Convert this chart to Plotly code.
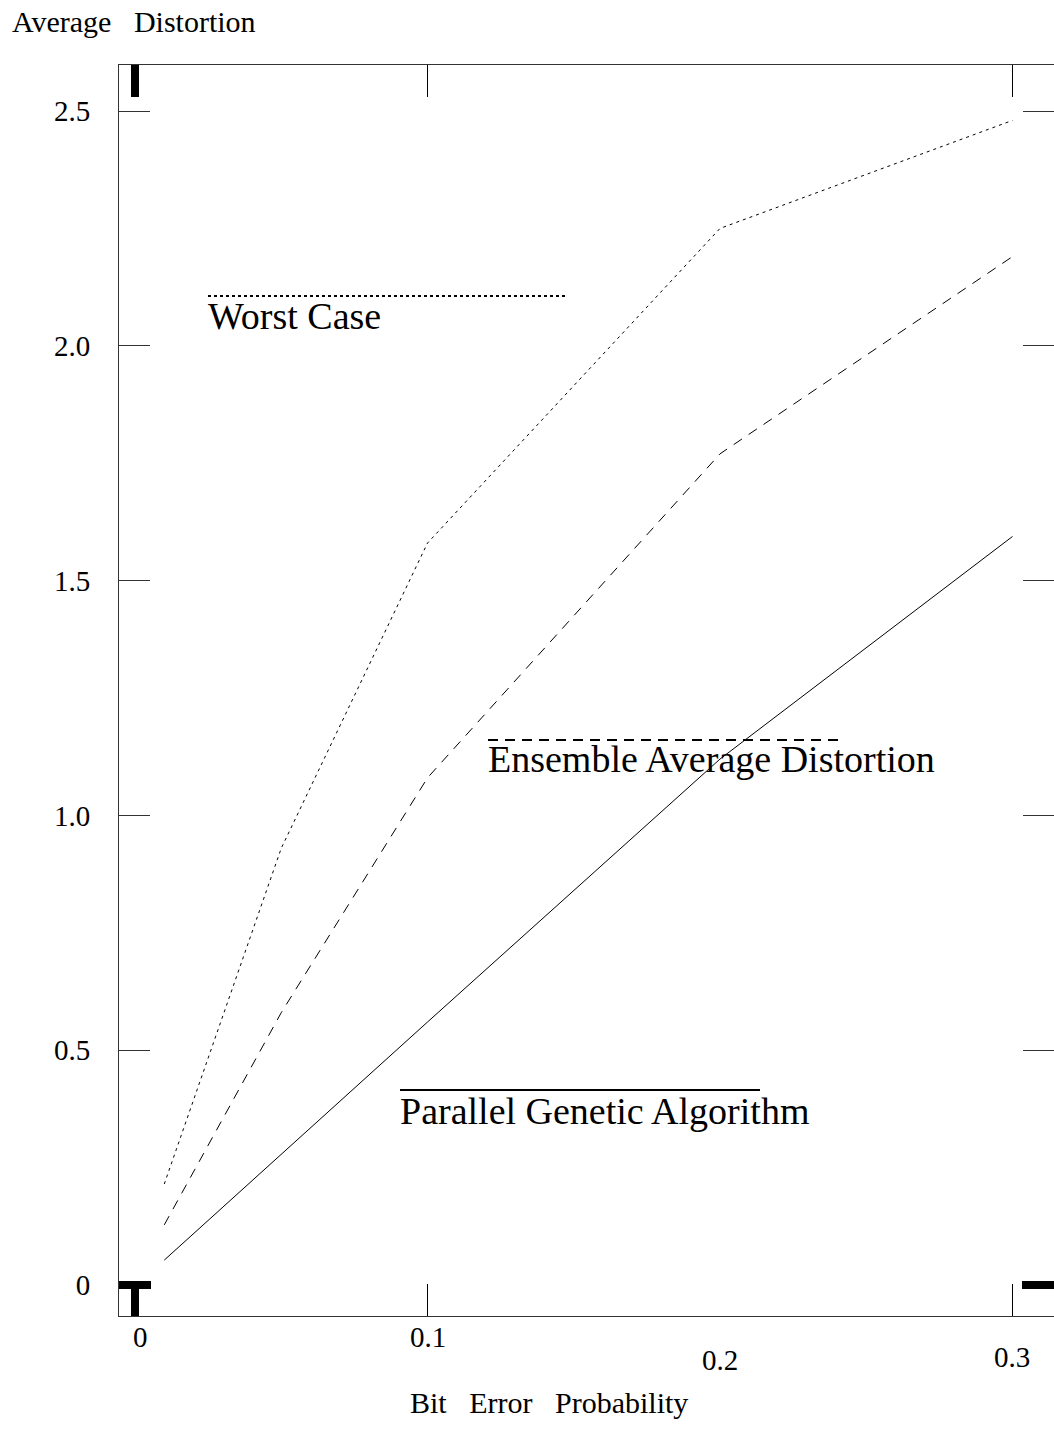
import plotly.graph_objects as go

# ---- data ----
x_worst = [0.01, 0.05, 0.1, 0.2, 0.3]
worst_case = [0.215, 0.93, 1.58, 2.25, 2.48]

x_ensemble = [0.01, 0.05, 0.1, 0.2, 0.3]
ensemble_avg = [0.128, 0.58, 1.08, 1.77, 2.19]

x_parallel = [0.01, 0.1, 0.2, 0.3]
parallel_ga = [0.053, 0.56, 1.12, 1.594]

y_tick_vals = [0, 0.5, 1.0, 1.5, 2.0, 2.5]
y_tick_text = ["0", "0.5", "1.0", "1.5", "2.0", "2.5"]
x_tick_vals = [0, 0.1, 0.2, 0.3]
x_tick_text = ["0", "0.1", "0.2", "0.3"]

W, H = 1054, 1447
L, R, T, B = 119, 0, 65, 131
PW, PH = W - L - R, H - T - B

def px(x):
    return (x - L) / PW

def py(y):
    return (H - B - y) / PH

FONT = "Liberation Serif, Times New Roman, serif"
X_RANGE = [-0.00547, 0.31419]
Y_RANGE = [-0.066, 2.598]
TICK_SIZE = 29
TITLE_SIZE = 30
LEG_SIZE = 38

fig = go.Figure()
fig.add_trace(go.Scatter(x=x_worst, y=worst_case, mode="lines",
                         line=dict(color="black", width=1, dash="3px,4px"),
                         showlegend=False, hoverinfo="skip"))
fig.add_trace(go.Scatter(x=x_ensemble, y=ensemble_avg, mode="lines",
                         line=dict(color="black", width=1, dash="10px,8px"),
                         showlegend=False, hoverinfo="skip"))
fig.add_trace(go.Scatter(x=x_parallel, y=parallel_ga, mode="lines",
                         line=dict(color="black", width=1),
                         showlegend=False, hoverinfo="skip"))
# invisible trace so the overlay axes (thick zero ticks) get drawn
fig.add_trace(go.Scatter(x=[0], y=[0], xaxis="x2", yaxis="y2", mode="markers",
                         marker=dict(opacity=0), showlegend=False, hoverinfo="skip"))

fig.update_layout(
    width=W, height=H,
    margin=dict(l=L, r=R, t=T, b=B, pad=0),
    paper_bgcolor="white", plot_bgcolor="white",
    font=dict(family=FONT, color="black", size=TICK_SIZE),
    xaxis=dict(range=X_RANGE, showgrid=False, zeroline=False,
               showline=True, linecolor="#333", linewidth=1, mirror="ticks",
               ticks="inside", ticklen=32, tickwidth=1, tickcolor="black",
               tickvals=[0.1, 0.3], showticklabels=False),
    yaxis=dict(range=Y_RANGE, showgrid=False, zeroline=False,
               showline=True, linecolor="#333", linewidth=1, mirror="ticks",
               ticks="inside", ticklen=31, tickwidth=1, tickcolor="#333",
               tickvals=y_tick_vals, ticktext=y_tick_text,
               ticklabelstandoff=22,
               tickfont=dict(family=FONT, size=TICK_SIZE)),
    xaxis2=dict(range=X_RANGE, overlaying="x", showgrid=False, zeroline=False,
                showline=False, mirror="ticks", ticks="inside", ticklen=32,
                tickwidth=8, tickcolor="black", tickvals=[0], showticklabels=False),
    yaxis2=dict(range=Y_RANGE, overlaying="y", showgrid=False, zeroline=False,
                showline=False, mirror="ticks", ticks="inside", ticklen=32,
                tickwidth=8, tickcolor="black", tickvals=[0], showticklabels=False),
)

# legend samples (line above text)
legend_items = [
    ("Worst Case", 208, 565, 296, 316, "3px,3px"),
    ("Ensemble Average Distortion", 488, 838, 740, 759, "10px,7px"),
    ("Parallel Genetic Algorithm", 400, 760, 1090, 1111, "solid"),
]
for text, x0, x1, yl, yt, dash in legend_items:
    fig.add_shape(type="line", xref="paper", yref="paper",
                  x0=px(x0), x1=px(x1), y0=py(yl), y1=py(yl),
                  line=dict(color="black", width=2, dash=dash))
    fig.add_annotation(text=text, xref="paper", yref="paper",
                       x=px(x0 - 2), y=py(yt), xanchor="left", yanchor="middle",
                       showarrow=False, font=dict(family=FONT, size=LEG_SIZE, color="black"))

# x tick labels (staggered as in the reference)
x_label_y = [1337, 1337, 1360, 1357]
x_label_shift = [5, 0, 0, 0]
for v, t, yy, sh in zip(x_tick_vals, x_tick_text, x_label_y, x_label_shift):
    fig.add_annotation(text=t, xref="x", yref="paper", x=v, y=py(yy),
                       xanchor="center", yanchor="middle", xshift=sh,
                       showarrow=False, font=dict(family=FONT, size=TICK_SIZE, color="black"))

# axis titles
nb = "\u00a0"
fig.add_annotation(text=f"Average{nb}{nb}{nb}Distortion", xref="paper", yref="paper",
                   x=px(10), y=py(22), xanchor="left", yanchor="middle",
                   showarrow=False, font=dict(family=FONT, size=TITLE_SIZE, color="black"))
fig.add_annotation(text=f"Bit{nb}{nb}{nb}Error{nb}{nb}{nb}Probability", xref="paper", yref="paper",
                   x=px(549), y=py(1402), xanchor="center", yanchor="middle",
                   showarrow=False, font=dict(family=FONT, size=TITLE_SIZE, color="black"))

fig.write_html("out.html")
